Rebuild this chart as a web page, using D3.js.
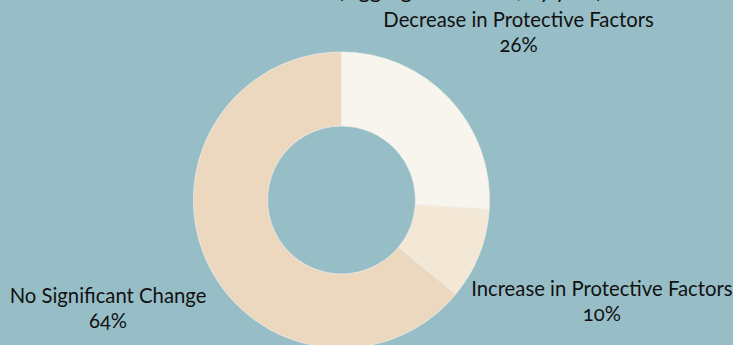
<!DOCTYPE html>
<html><head><meta charset="utf-8">
<script src="https://cdn.jsdelivr.net/npm/d3@7"></script>
<style>
html,body{margin:0;padding:0;background:#97bec7;overflow:hidden;}
text{font-family:Lato,"Open Sans",sans-serif;font-feature-settings:"onum" 1;font-variant-numeric:oldstyle-nums;fill:#111;}
</style></head>
<body>
<svg id="chart" width="733" height="345"></svg>
<script>
const categories = ["Decrease in Protective Factors", "Increase in Protective Factors", "No Significant Change"];
const values = [26, 10, 64];
const colors = ["#f7f5ee", "#f3e7d6", "#ecd8bf"];
const titleText = "(Aggregate Results, by year)";

const W = 733, H = 345, cx = 341.5, cy = 200, outerR = 148, innerR = 74;
const labelRadius = [243, 280, 258];

const svg = d3.select("#chart");
svg.append("rect").attr("width", W).attr("height", H).attr("fill", "#97bec7");

svg.append("text").attr("x", 470).attr("y", -2).attr("text-anchor", "middle")
  .attr("font-size", 22).text(titleText);

const pie = d3.pie().sort(null).value(d => d);
const arcs = pie(values);
const arc = d3.arc().innerRadius(innerR).outerRadius(outerR);

const g = svg.append("g").attr("transform", `translate(${cx},${cy})`);
g.selectAll("path").data(arcs).enter().append("path")
  .attr("d", arc).attr("fill", (d, i) => colors[i])
  .attr("stroke", "#f4f1ea").attr("stroke-width", 0.7);

arcs.forEach((d, i) => {
  const a = (d.startAngle + d.endAngle) / 2;
  const r = labelRadius[i];
  const x = Math.sin(a) * r, y = -Math.cos(a) * r;
  const t = g.append("text").attr("text-anchor", "middle").attr("font-size", 20.3);
  t.append("tspan").attr("x", x).attr("y", y - 7).text(categories[i]);
  t.append("tspan").attr("x", x).attr("y", y + 18).text(values[i] + "%");
});
</script>
</body></html>
